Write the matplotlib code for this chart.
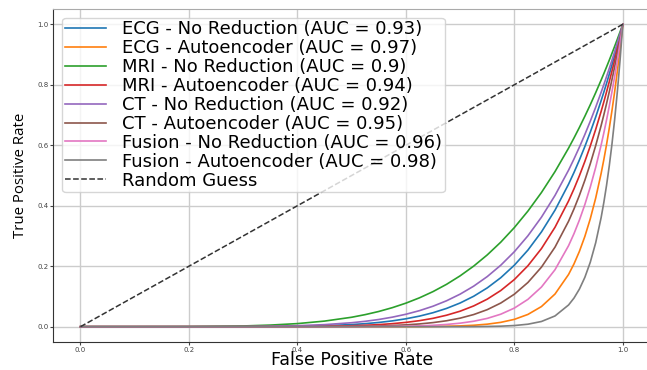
import matplotlib
matplotlib.use("Agg")
import matplotlib.pyplot as plt

fpr = [0, 0.1, 0.2, 0.3, 0.35, 0.4, 0.45, 0.5, 0.525, 0.55, 0.575, 0.6, 0.625, 0.65, 0.675, 0.7,
       0.725, 0.75, 0.775, 0.8, 0.825, 0.85, 0.875, 0.9, 0.91, 0.92, 0.93, 0.94, 0.95, 0.96,
       0.965, 0.97, 0.975, 0.98, 0.985, 0.99, 0.995, 1.0]
ecg_none = [0, 0, 0, 0.0002, 0.0006, 0.0014, 0.0033, 0.0071, 0.01, 0.014, 0.0192, 0.0261, 0.0349, 0.0462, 0.0604, 0.0783, 0.1006, 0.1282, 0.162, 0.2033,
            0.2532, 0.3134, 0.3854, 0.4713, 0.51, 0.5514, 0.5956, 0.6429, 0.6933, 0.7472, 0.7754, 0.8045, 0.8346, 0.8657, 0.8977, 0.9308, 0.9648, 1]
ecg_auto = [0, 0, 0, 0, 0, 0, 0, 0, 0, 0, 0.0001, 0.0002, 0.0004, 0.0008, 0.0014, 0.0026, 0.0047, 0.0083, 0.0143, 0.0242,
            0.0405, 0.0666, 0.108, 0.1727, 0.2076, 0.2491, 0.2983, 0.3565, 0.4253, 0.5064, 0.5522, 0.6018, 0.6557, 0.7141, 0.7773, 0.8457, 0.9198, 1]
mri_none = [0, 0, 0.0003, 0.0024, 0.0053, 0.0102, 0.0185, 0.0312, 0.0399, 0.0503, 0.0629, 0.0778, 0.0954, 0.116, 0.1401, 0.1681, 0.2003, 0.2373, 0.2796, 0.3277,
            0.3822, 0.4437, 0.5129, 0.5905, 0.624, 0.6591, 0.6957, 0.7339, 0.7738, 0.8154, 0.8368, 0.8587, 0.8811, 0.9039, 0.9272, 0.951, 0.9752, 1]
mri_auto = [0, 0, 0, 0, 0.0002, 0.0005, 0.0013, 0.0031, 0.0047, 0.0069, 0.01, 0.0142, 0.0199, 0.0276, 0.0379, 0.0512, 0.0686, 0.091, 0.1196, 0.1559,
            0.2014, 0.2583, 0.3288, 0.4158, 0.4558, 0.4993, 0.5463, 0.5972, 0.6523, 0.7117, 0.7432, 0.7759, 0.8099, 0.8451, 0.8817, 0.9197, 0.9591, 1]
ct_none = [0, 0, 0, 0.0005, 0.0014, 0.0033, 0.0068, 0.0131, 0.0178, 0.0238, 0.0315, 0.0411, 0.053, 0.0677, 0.0857, 0.1076, 0.134, 0.1656, 0.2033, 0.2479,
           0.3005, 0.3621, 0.4341, 0.5176, 0.5546, 0.5938, 0.6354, 0.6793, 0.7257, 0.7748, 0.8004, 0.8267, 0.8536, 0.8814, 0.9099, 0.9391, 0.9692, 1]
ct_auto = [0, 0, 0, 0, 0, 0.0001, 0.0003, 0.001, 0.0016, 0.0025, 0.004, 0.006, 0.0091, 0.0135, 0.0196, 0.0282, 0.0401, 0.0563, 0.0782, 0.1074,
           0.1461, 0.1969, 0.2631, 0.3487, 0.3894, 0.4344, 0.484, 0.5386, 0.5987, 0.6648, 0.7003, 0.7374, 0.7763, 0.8171, 0.8597, 0.9044, 0.9511, 1]
fusion_none = [0, 0, 0, 0, 0, 0, 0, 0.0002, 0.0003, 0.0006, 0.001, 0.0017, 0.0028, 0.0046, 0.0074, 0.0116, 0.018, 0.0274, 0.0413, 0.0615,
               0.0903, 0.1311, 0.1884, 0.2679, 0.3076, 0.3527, 0.4037, 0.4614, 0.5267, 0.6003, 0.6406, 0.6834, 0.7287, 0.7768, 0.8279, 0.8819, 0.9393, 1]
fusion_auto = [0, 0, 0, 0, 0, 0, 0, 0, 0, 0, 0, 0, 0, 0, 0.0001, 0.0001, 0.0003, 0.0008, 0.0017, 0.0038,
               0.0082, 0.0172, 0.0355, 0.0718, 0.0946, 0.1244, 0.163, 0.2129, 0.2774, 0.3604, 0.4104, 0.467, 0.531, 0.6035, 0.6853, 0.7778, 0.8822, 1]

labels = ["ECG - No Reduction (AUC = 0.93)", "ECG - Autoencoder (AUC = 0.97)",
          "MRI - No Reduction (AUC = 0.9)", "MRI - Autoencoder (AUC = 0.94)",
          "CT - No Reduction (AUC = 0.92)", "CT - Autoencoder (AUC = 0.95)",
          "Fusion - No Reduction (AUC = 0.96)", "Fusion - Autoencoder (AUC = 0.98)"]
series = [ecg_none, ecg_auto, mri_none, mri_auto, ct_none, ct_auto, fusion_none, fusion_auto]
colors = ["#1f77b4", "#ff7f0e", "#2ca02c", "#d62728", "#9467bd", "#8c564b", "#e377c2", "#7f7f7f"]
ticks = [0.0, 0.2, 0.4, 0.6, 0.8, 1.0]

fig = plt.figure(figsize=(6.47, 3.7), dpi=100)
ax = fig.add_axes([0.0825, 0.0762, 0.922, 0.899])
for s, lab, c in zip(series, labels, colors):
    ax.plot(fpr, s, color=c, lw=1.2, label=lab)
ax.plot([0, 1], [0, 1], color="#333333", ls="--", lw=1.1, label="Random Guess")
ax.set_xlim(-0.05, 1.05)
ax.set_ylim(-0.05, 1.05)
ax.set_xticks(ticks)
ax.set_yticks(ticks)
ax.tick_params(labelsize=5, colors="#444444", length=2, pad=1.5)
ax.grid(True, color="#cccccc", lw=1)
for sp in ["left", "bottom"]:
    ax.spines[sp].set_color("#333333")
for sp in ["top", "right"]:
    ax.spines[sp].set_color("#aaaaaa")
ax.set_xlabel("False Positive Rate", fontsize=12.5, va="baseline")
ax.xaxis.set_label_coords(0.5, -0.0706)
ax.set_ylabel("True Positive Rate", fontsize=10.8, family="Open Sans")
ax.yaxis.set_label_coords(-0.043, 0.5)
leg = ax.legend(loc="upper left", fontsize=13, labelspacing=0.05, handlelength=2.3,
                handletextpad=0.9, borderaxespad=0.48, borderpad=0.14,
                framealpha=0.8, edgecolor="#cccccc")
fig.savefig("out.png", dpi=100)
